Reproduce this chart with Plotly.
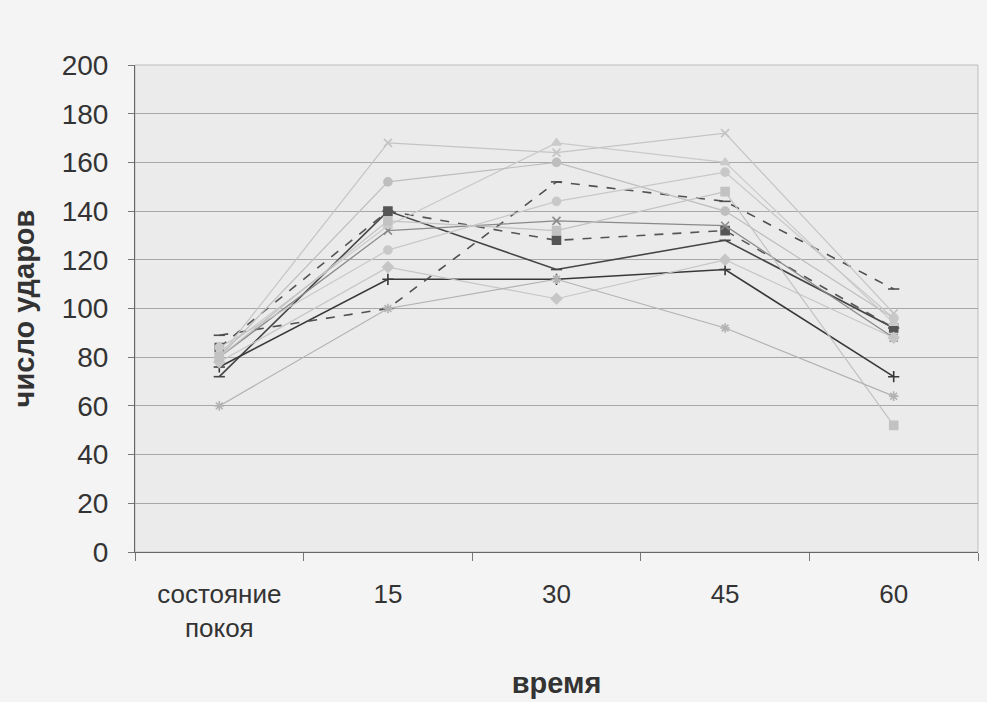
import plotly.graph_objects as go

categories = ["состояние<br>покоя", "15", "30", "45", "60"]
tick_values = [0, 20, 40, 60, 80, 100, 120, 140, 160, 180, 200]

s01 = [72, 140, 116, 128, 92]
s02 = [76, 112, 112, 116, 72]
s03 = [89, 100, 152, 144, 108]
s04 = [84, 140, 128, 132, 92]
s05 = [80, 132, 136, 134, 88]
s06 = [80, 168, 164, 172, 98]
s07 = [82, 134, 168, 160, 94]
s08 = [80, 152, 160, 140, 96]
s09 = [84, 124, 144, 156, 96]
s10 = [78, 117, 104, 120, 88]
s11 = [80, 136, 132, 148, 52]
s12 = [60, 100, 112, 92, 64]

series = [s01, s02, s03, s04, s05, s06, s07, s08, s09, s10, s11, s12]

# styles (kept apart from data)
colors = ["#454545", "#383838", "#505050", "#555555", "#8a8a8a", "#c4c4c4",
          "#cacaca", "#bebebe", "#c8c8c8", "#c6c6c6", "#c2c2c2", "#b2b2b2"]
symbols = ["line-ew", "cross-thin", "line-ew", "square", "x-thin", "x-thin",
           "triangle-up", "circle", "circle", "diamond", "square", "asterisk"]
dashes = ["solid", "solid", "dash", "dash", "solid", "solid",
          "solid", "solid", "solid", "solid", "solid", "solid"]
widths = [1.6, 1.6, 1.6, 1.6, 1.3, 1.2, 1.2, 1.2, 1.2, 1.2, 1.2, 1.2]

fig = go.Figure()
for vals, c, sym, d, w in zip(series, colors, symbols, dashes, widths):
    fig.add_trace(go.Scatter(
        x=categories, y=vals, mode="lines+markers",
        line=dict(color=c, width=w, dash=d),
        marker=dict(symbol=sym, size=8, color=c,
                    line=dict(color=c, width=1.6)),
        showlegend=False,
    ))

fig.update_layout(
    width=987, height=702,
    margin=dict(l=135, r=9, t=65, b=150),
    paper_bgcolor="#f4f4f4",
    plot_bgcolor="#ebebeb",
    font=dict(family="Liberation Sans, Arial, sans-serif", color="#333333"),
)
fig.update_xaxes(
    type="category",
    range=[-0.5, len(categories) - 0.5],
    tickson="boundaries",
    ticks="outside", ticklen=8, tickcolor="#777777",
    showline=True, linecolor="#666666", linewidth=1,
    showgrid=False,
    tickfont=dict(size=26, color="#333333"),
    ticklabelstandoff=19,
    title=dict(text="<b>время</b>", font=dict(size=29, color="#333333"), standoff=30),
)
fig.update_yaxes(
    range=[0, 200], tickvals=tick_values,
    ticks="outside", ticklen=6, tickcolor="#777777",
    showline=True, linecolor="#666666", linewidth=1,
    showgrid=True, gridcolor="#a8a8a8", gridwidth=1,
    tickfont=dict(size=28, color="#333333"),
    ticklabelstandoff=14,
    title=dict(text="<b>число ударов</b>", font=dict(size=29, color="#333333"), standoff=18),
    zeroline=False,
)
# plot-area border on top and right (light)
fig.add_shape(type="rect", xref="paper", yref="paper", x0=0, y0=0, x1=1, y1=1,
              line=dict(color="#bdbdbd", width=1), layer="below")

fig.write_html(
    "out.html",
    config={"displayModeBar": False},
    post_script="document.body.style.margin='0px';document.body.style.background='#f4f4f4';",
)
